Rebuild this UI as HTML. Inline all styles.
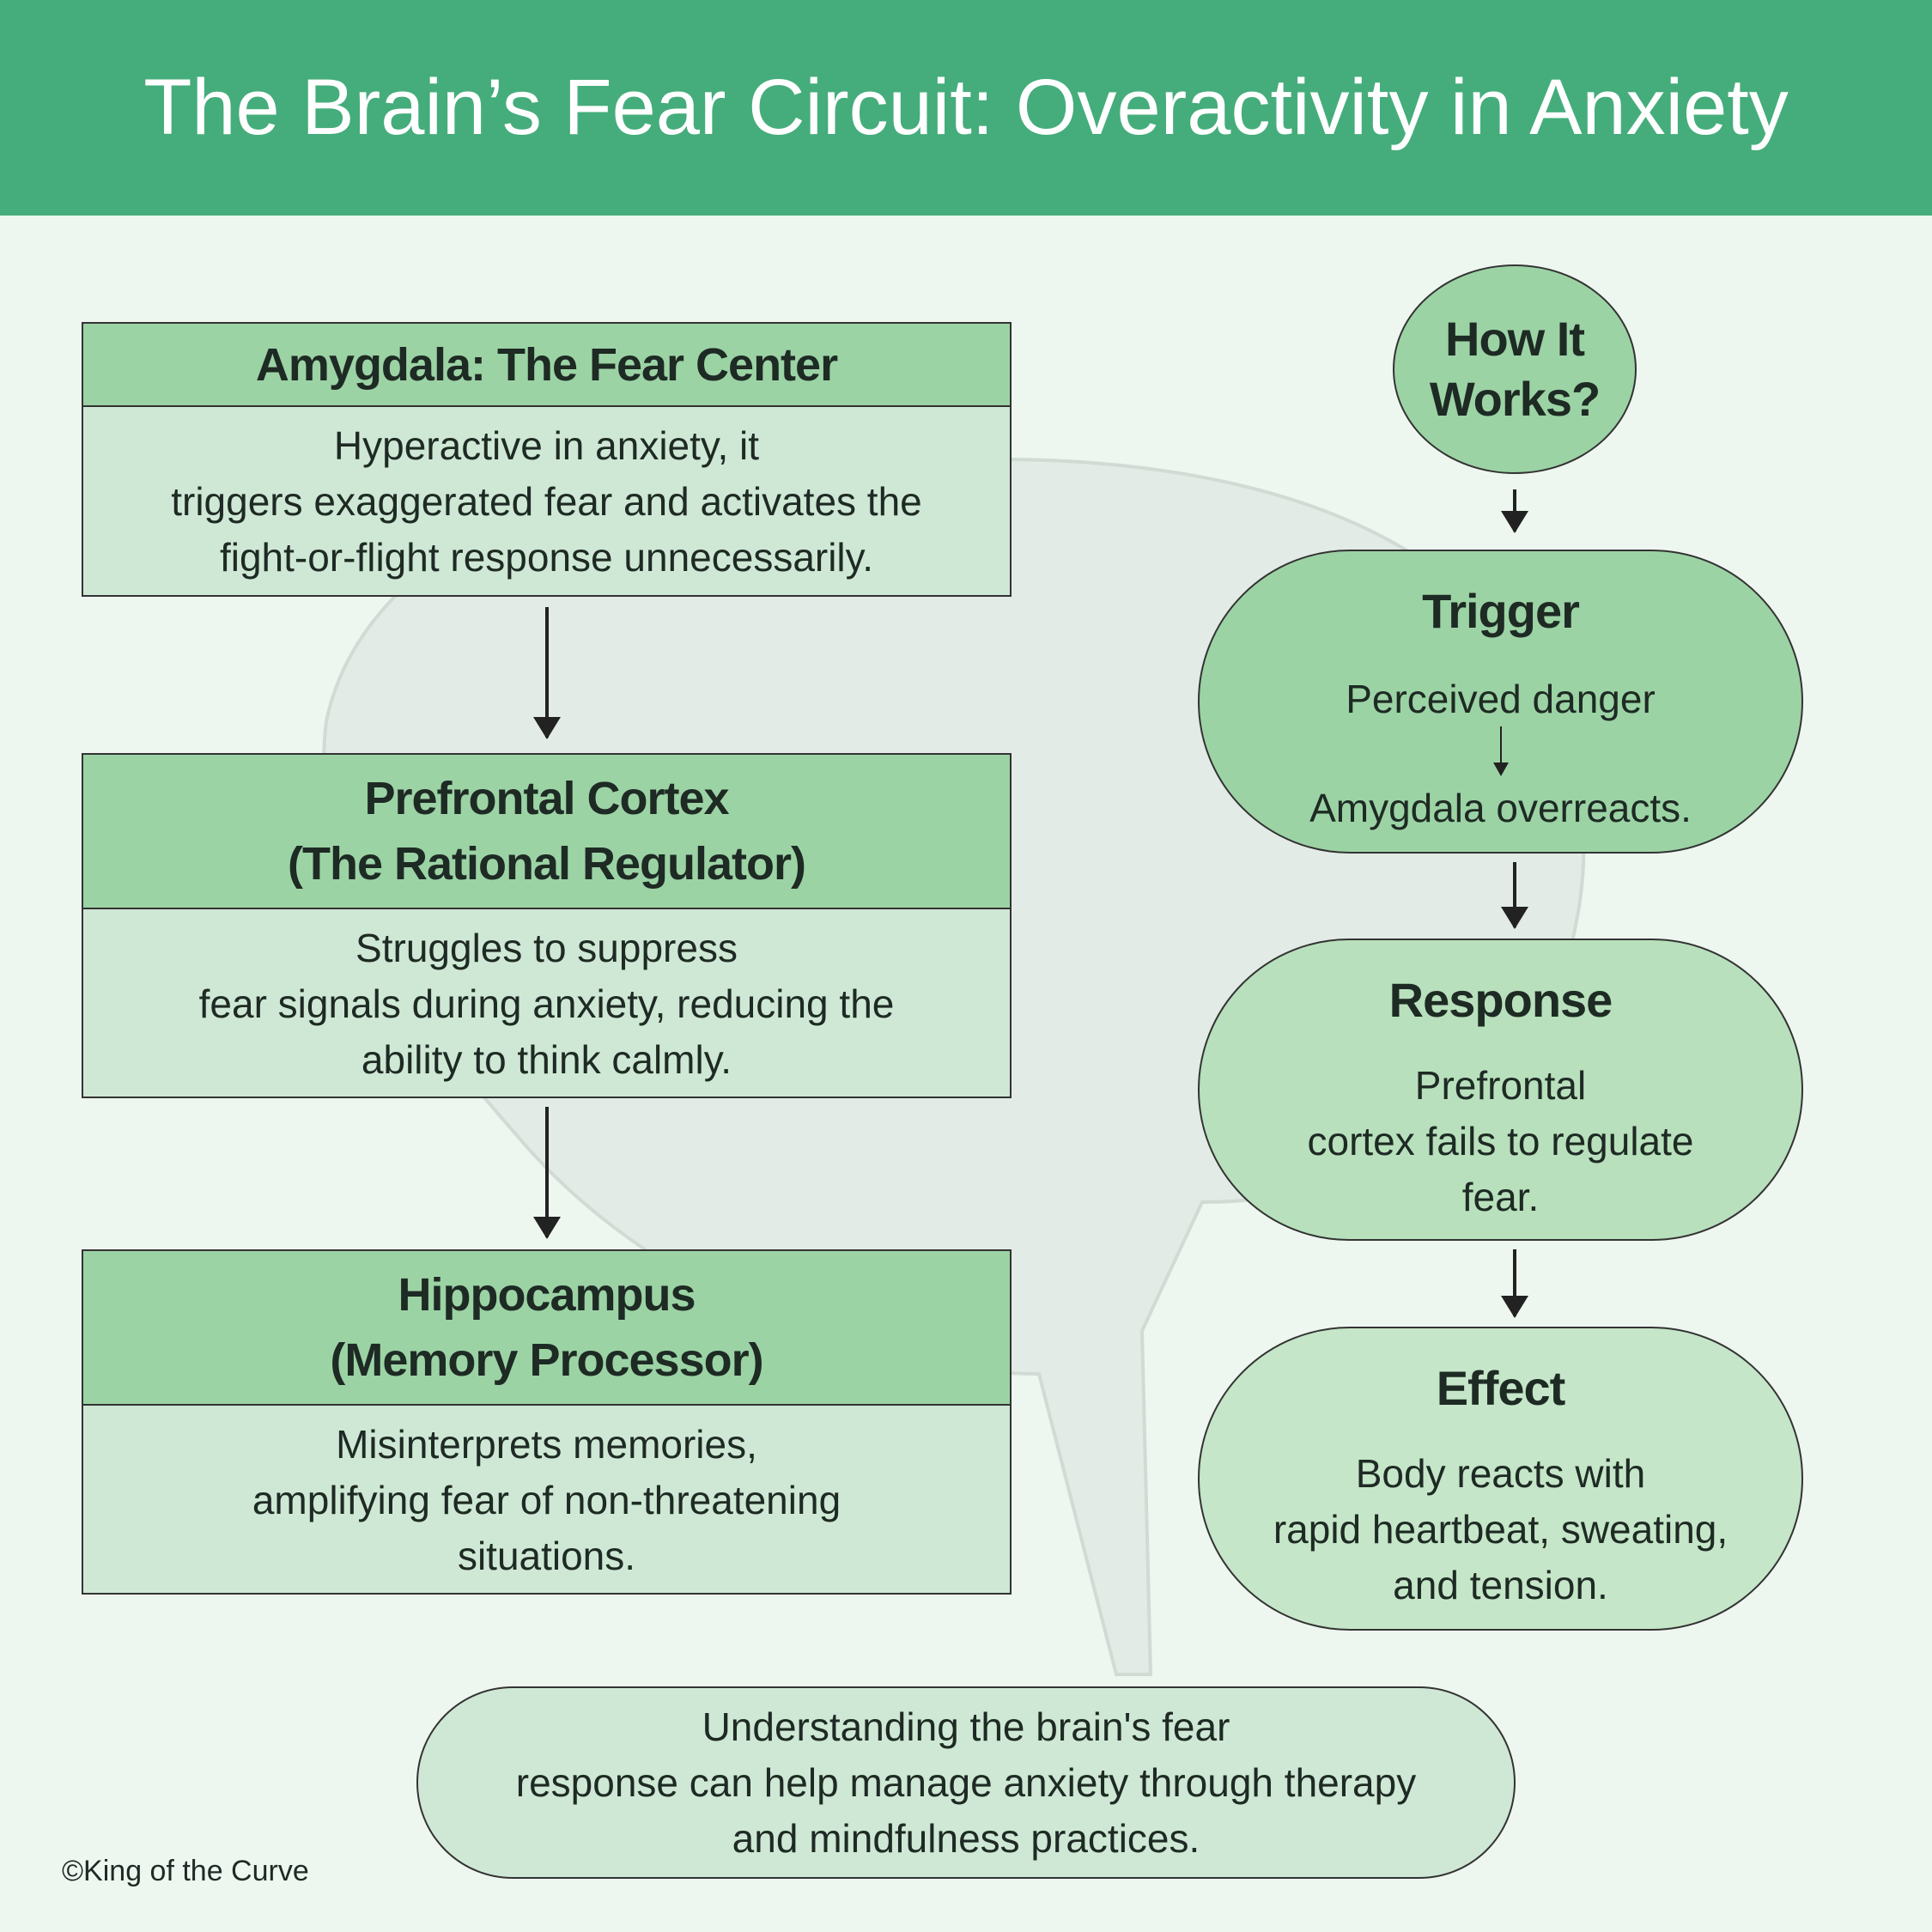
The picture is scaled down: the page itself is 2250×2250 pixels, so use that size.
<!DOCTYPE html>
<html><head><meta charset="utf-8"><style>
body{margin:0;width:2250px;height:2250px;background:#eef6f0;position:relative;overflow:hidden;font-family:"Liberation Sans",sans-serif;color:#1e2a24}
.hdr{position:absolute;left:0;top:0;width:2250px;height:251px;background:#45ad7b;color:#fff;font-size:92px;text-align:center;line-height:251px}
.box{position:absolute;left:95px;width:1083px;border:2px solid #333;background:#cfe8d5;box-sizing:border-box}
.bh{background:#9cd3a5;border-bottom:2px solid #333;text-align:center;font-weight:bold;font-size:54px;display:flex;align-items:center;justify-content:center;line-height:76px;letter-spacing:-1px}
.bb{text-align:center;font-size:46px;line-height:65px;display:flex;align-items:center;justify-content:center}
.pill{position:absolute;border:2px solid #333;box-sizing:border-box;text-align:center;font-size:46px;line-height:65px}
.pill b{display:block;font-size:56px;letter-spacing:-1px}
.arr{position:absolute;width:4px;background:#222}
.arr:after{content:"";position:absolute;left:-14px;bottom:-2px;border-left:16px solid transparent;border-right:16px solid transparent;border-top:26px solid #222}
.sa{position:relative;width:2px;height:56px;background:#222;margin:4px auto 12px}
.sa:after{content:"";position:absolute;left:-8px;bottom:-2px;border-left:9px solid transparent;border-right:9px solid transparent;border-top:16px solid #222}
</style></head><body>
<svg style="position:absolute;left:0;top:0" width="2250" height="2250">
<path d="M380 840 C420 650 650 540 900 560 C1100 520 1400 520 1600 620 C1800 720 1880 900 1830 1100 C1800 1300 1600 1400 1400 1400 L1330 1550 L1340 1950 L1300 1950 L1210 1600 C1000 1600 750 1500 600 1320 C450 1150 360 1000 380 840Z" fill="#e2ebe5" stroke="#d0dbd4" stroke-width="4"/>
</svg>
<div class="hdr">The Brain’s Fear Circuit: Overactivity in Anxiety</div>

<div class="box" style="top:375px;height:320px">
<div class="bh" style="height:95px">Amygdala: The Fear Center</div>
<div class="bb" style="height:221px">Hyperactive in anxiety, it<br>triggers exaggerated fear and activates the<br>fight-or-flight response unnecessarily.</div></div>
<div class="arr" style="left:635px;top:707px;height:152px"></div>

<div class="box" style="top:877px;height:402px">
<div class="bh" style="height:178px">Prefrontal Cortex<br>(The Rational Regulator)</div>
<div class="bb" style="height:220px">Struggles to suppress<br>fear signals during anxiety, reducing the<br>ability to think calmly.</div></div>
<div class="arr" style="left:635px;top:1289px;height:152px"></div>

<div class="box" style="top:1455px;height:402px">
<div class="bh" style="height:178px">Hippocampus<br>(Memory Processor)</div>
<div class="bb" style="height:220px">Misinterprets memories,<br>amplifying fear of non-threatening<br>situations.</div></div>

<div class="pill" style="left:1622px;top:308px;width:284px;height:244px;border-radius:50%;background:#9cd3a5;display:flex;align-items:center;justify-content:center"><b style="line-height:70px">How It<br>Works?</b></div>
<div class="arr" style="left:1762px;top:570px;height:49px"></div>

<div class="pill" style="left:1395px;top:640px;width:705px;height:354px;border-radius:177px;background:#9cd3a5;padding-top:35px"><b style="line-height:70px">Trigger</b><div style="margin-top:40px;line-height:55px">Perceived danger</div><div class="sa"></div><div style="line-height:55px">Amygdala overreacts.</div></div>
<div class="arr" style="left:1762px;top:1004px;height:76px"></div>

<div class="pill" style="left:1395px;top:1093px;width:705px;height:352px;border-radius:176px;background:#b8e0bc;padding-top:35px"><b style="line-height:70px">Response</b><div style="margin-top:32px">Prefrontal<br>cortex fails to regulate<br>fear.</div></div>
<div class="arr" style="left:1762px;top:1455px;height:78px"></div>

<div class="pill" style="left:1395px;top:1545px;width:705px;height:354px;border-radius:177px;background:#c5e6c8;padding-top:35px"><b style="line-height:70px">Effect</b><div style="margin-top:32px">Body reacts with<br>rapid heartbeat, sweating,<br>and tension.</div></div>

<div class="pill" style="left:485px;top:1964px;width:1280px;height:224px;border-radius:112px;background:#cfe8d5;display:flex;align-items:center;justify-content:center">Understanding the brain's fear<br>response can help manage anxiety through therapy<br>and mindfulness practices.</div>

<div style="position:absolute;left:72px;top:2160px;font-size:34px">©King of the Curve</div>
</body></html>
